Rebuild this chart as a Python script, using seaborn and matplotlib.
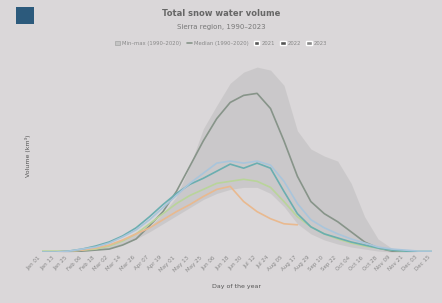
import matplotlib
matplotlib.use("Agg")
import matplotlib.pyplot as plt
from matplotlib.patches import Rectangle
from matplotlib.lines import Line2D
from matplotlib.patches import Patch
import seaborn as sns
import pandas as pd
import numpy as np

days = ["Jan 01", "Jan 13", "Jan 25", "Feb 06", "Feb 18", "Mar 02", "Mar 14", "Mar 26",
        "Apr 07", "Apr 19", "May 01", "May 13", "May 25", "Jun 06", "Jun 18", "Jun 30",
        "Jul 12", "Jul 24", "Aug 05", "Aug 17", "Aug 29", "Sep 10", "Sep 22", "Oct 04",
        "Oct 16", "Oct 28", "Nov 09", "Nov 21", "Dec 03", "Dec 15"]
band_max = [0, 0, 1, 2, 4, 7, 12, 18, 25, 38, 55, 85, 122, 145, 167, 178, 183, 180,
            165, 120, 102, 95, 90, 68, 35, 13, 4, 1, 0, 0]
band_min = [0, 0, 0, 1, 2, 4, 8, 13, 20, 28, 36, 44, 52, 58, 62, 64, 64, 58,
            45, 28, 18, 12, 8, 5, 3, 1, 0, 0, 0, 0]
median = [0, 0, 0, 1, 2, 3, 7, 13, 26, 40, 60, 85, 110, 132, 148, 155, 157, 142,
          110, 75, 50, 38, 30, 20, 10, 4, 1, 0, 0, 0]
y2021 = [0, 0, 1, 2, 4, 7, 12, 18, 24, 32, 40, 47, 55, 62, 65, 50, 40, 33, 28, 27]
y2022 = [0, 0, 1, 3, 6, 10, 16, 24, 35, 47, 58, 67, 73, 80, 87, 83, 88, 83,
         60, 38, 25, 18, 14, 10, 7, 4, 2, 1, 0, 0]
y2023 = [0, 0, 1, 3, 5, 9, 15, 22, 32, 44, 56, 68, 78, 88, 90, 88, 90, 86,
         70, 48, 32, 24, 18, 13, 9, 5, 3, 2, 1, 1]
y2020 = [1, 1, 1, 2, 3, 6, 11, 18, 28, 38, 48, 56, 62, 68, 70, 72, 70, 64,
         50, 35, 25, 18, 13, 9, 6, 4, 2, 1, 1, 1]
series_names = ["2020", "2021", "2022", "2023"]
series_colors = ["#b9d49a", "#e9b98f", "#6aaeb0", "#a9c5db"]
legend_labels = ["Min–max (1990–2020)", "Median (1990–2020)", "2021", "2022", "2023"]

bg = "#dad7d9"
sns.set_theme(style="white")
plt.rcParams["font.family"] = ["DejaVu Sans"]

fig = plt.figure(figsize=(4.42, 3.03), dpi=100, facecolor=bg)
ax = fig.add_axes([0.095, 0.168, 0.882, 0.634])
ax.set_facecolor(bg)

x = np.arange(len(days))
ax.fill_between(x, band_min, band_max, color="#a8a8a8", alpha=0.3, linewidth=0)

rows = []
for name, vals in zip(["median"] + series_names, [median, y2020, y2021, y2022, y2023]):
    for i, v in enumerate(vals):
        rows.append({"day": i, "value": v, "series": name})
df = pd.DataFrame(rows)
palette = {"median": "#879489"}
palette.update(dict(zip(series_names, series_colors)))
sns.lineplot(data=df, x="day", y="value", hue="series", palette=palette,
             linewidth=1.2, ax=ax, legend=False)

ax.set_xlim(0, len(days) - 1)
ax.set_ylim(0, 190)
ax.set_xticks(x)
ax.set_xticklabels(days, rotation=45, ha="right", fontsize=4, color="#888888")
ax.tick_params(axis="x", length=0, pad=2)
ax.set_yticks([])
ax.set_xlabel("Day of the year", fontsize=4.5, color="#555555", labelpad=8)
ax.set_ylabel("Volume (km³)", fontsize=4.5, color="#555555", labelpad=8)
for s in ax.spines.values():
    s.set_visible(False)

fig.text(0.5, 0.955, "Total snow water volume", ha="center", va="center",
         fontsize=6, fontweight="bold", color="#666666")
fig.text(0.5, 0.912, "Sierra region, 1990–2023", ha="center", va="center",
         fontsize=5, color="#777777")

handles = [Patch(facecolor="#c4c4c4", edgecolor="#999999", linewidth=0.4),
           Line2D([], [], color="#879489", lw=1.2),
           Patch(facecolor="#555555"), Patch(facecolor="#555555"), Patch(facecolor="#888888")]
fig.legend(handles, legend_labels, loc="center", bbox_to_anchor=(0.5, 0.858), ncol=5,
           frameon=False, fontsize=3.8, handlelength=1.0, handleheight=0.8,
           columnspacing=1.0, handletextpad=0.4, labelcolor="#888888")

fig.patches.append(Rectangle((0.036, 0.92), 0.04, 0.057, transform=fig.transFigure,
                             facecolor="#2c5a7c", edgecolor="none"))

fig.savefig("out.png", dpi=100, facecolor=bg)
